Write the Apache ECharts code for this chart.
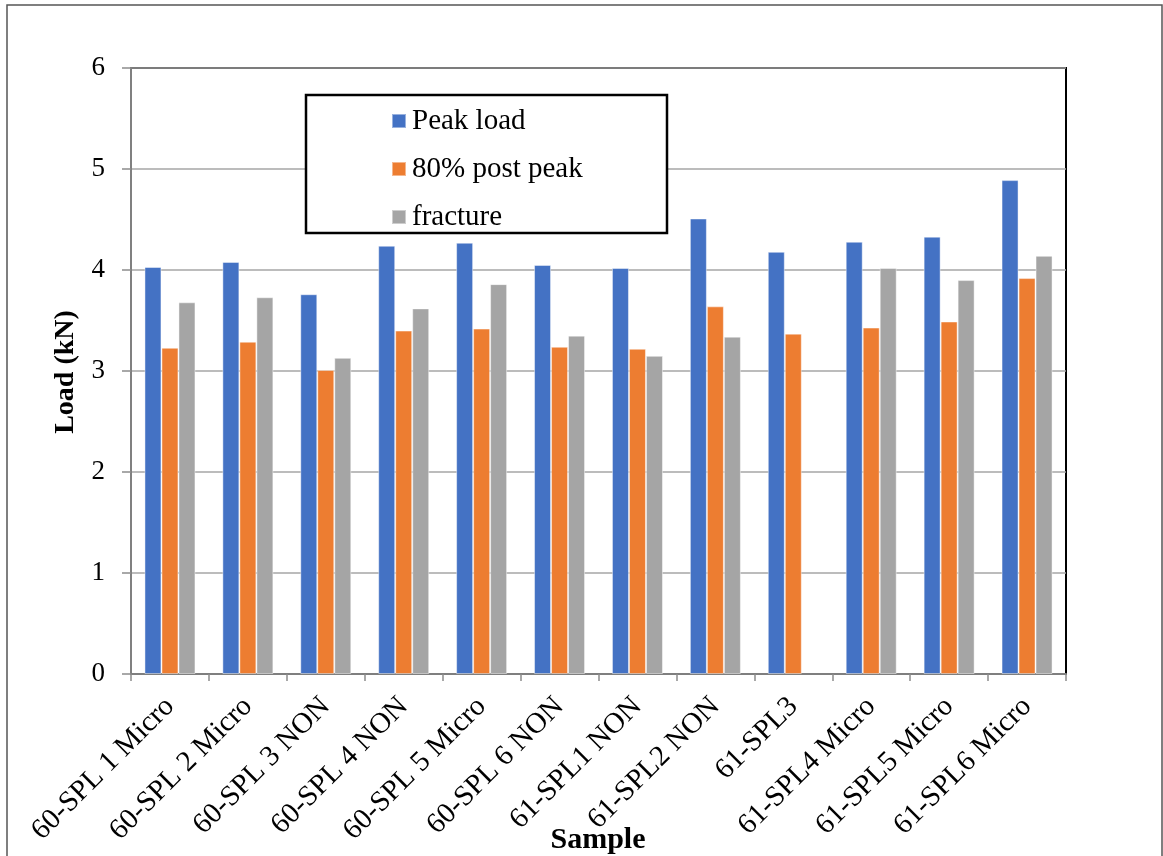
<!DOCTYPE html>
<html>
<head>
<meta charset="utf-8">
<script src="https://cdn.jsdelivr.net/npm/echarts@6/dist/echarts.min.js"></script>
<style>
  html, body { margin: 0; padding: 0; background: #fff; }
  #chart { width: 1163px; height: 856px; }
</style>
</head>
<body>
<div id="chart"></div>
<script>
// Samples tested
const samples = [
  '60-SPL 1 Micro', '60-SPL 2 Micro', '60-SPL 3 NON', '60-SPL 4 NON',
  '60-SPL 5 Micro', '60-SPL 6 NON', '61-SPL1 NON', '61-SPL2 NON',
  '61-SPL3', '61-SPL4 Micro', '61-SPL5 Micro', '61-SPL6 Micro'
];

// Loads in kN
const peakLoad  = [4.03, 4.08, 3.76, 4.24, 4.27, 4.05, 4.02, 4.51, 4.18, 4.28, 4.33, 4.89];
const postPeak  = [3.23, 3.29, 3.01, 3.40, 3.42, 3.24, 3.22, 3.64, 3.37, 3.43, 3.49, 3.92];
const fracture  = [3.68, 3.73, 3.13, 3.62, 3.86, 3.35, 3.15, 3.34, null, 4.02, 3.90, 4.14];

const yTicks = { min: 0, max: 6, interval: 1 };

const SERIF = "'Liberation Serif', 'Times New Roman', serif";

const chart = echarts.init(document.getElementById('chart'), null, { renderer: 'canvas' });

function barSeries(name, data, color) {
  return {
    name: name,
    type: 'bar',
    data: data,
    barWidth: 17,
    barGap: '0%',
    itemStyle: { color: color, borderColor: 'rgba(255,255,255,0.45)', borderWidth: 1 },
    emphasis: { disabled: true }
  };
}

chart.setOption({
  animation: false,
  backgroundColor: '#ffffff',
  textStyle: { fontFamily: SERIF },
  grid: {
    left: 131, right: 97, top: 68, bottom: 182,
    show: true, borderColor: '#000000', borderWidth: 2, backgroundColor: 'transparent'
  },
  graphic: [
    {
      type: 'rect', z: 0, silent: true,
      shape: { x: 7, y: 5, width: 1155, height: 870 },
      style: { fill: 'none', stroke: '#555555', lineWidth: 1.5 }
    },
    {
      type: 'rect', z: 3, silent: true,
      shape: { x: 306, y: 95, width: 361, height: 138 },
      style: { fill: '#ffffff', stroke: '#000000', lineWidth: 2.5 }
    },
    {
      type: 'text', z: 5, silent: true,
      rotation: Math.PI / 2,
      x: 66, y: 372,
      style: {
        text: 'Load (kN)', fill: '#000', font: 'bold 28px ' + SERIF,
        align: 'center', verticalAlign: 'middle'
      }
    },
    {
      type: 'text', z: 5, silent: true,
      x: 598, y: 840,
      style: {
        text: 'Sample', fill: '#000', font: 'bold 30px ' + SERIF,
        align: 'center', verticalAlign: 'middle'
      }
    }
  ],
  legend: {
    orient: 'vertical',
    left: 391, top: 105,
    z: 6,
    icon: 'rect',
    itemWidth: 14, itemHeight: 14,
    itemGap: 16,
    padding: 0,
    selectedMode: false,
    textStyle: { fontFamily: SERIF, fontSize: 29, color: '#000', lineHeight: 29, padding: [3, 0, 0, 1] }
  },
  xAxis: {
    type: 'category',
    data: samples,
    axisLine: { lineStyle: { color: '#7f7f7f', width: 2 } },
    axisTick: { show: true, length: 7, lineStyle: { color: '#8c8c8c', width: 1.5 } },
    axisLabel: {
      interval: 0, rotate: 45, margin: 28,
      fontFamily: SERIF, fontSize: 29, color: '#000'
    },
    splitLine: { show: false }
  },
  yAxis: {
    type: 'value',
    min: yTicks.min, max: yTicks.max, interval: yTicks.interval,
    axisLine: { show: true, lineStyle: { color: '#808080', width: 2 } },
    axisTick: { show: true, length: 9, lineStyle: { color: '#8c8c8c', width: 1.5 } },
    axisLabel: { margin: 26, fontFamily: SERIF, fontSize: 27, color: '#000' },
    splitLine: { show: true, lineStyle: { color: '#a6a6a6', width: 1.5 } }
  },
  series: [
    barSeries('Peak load', peakLoad, '#4472C4'),
    barSeries('80% post peak', postPeak, '#ED7D31'),
    barSeries('fracture', fracture, '#A5A5A5')
  ]
});
</script>
</body>
</html>
